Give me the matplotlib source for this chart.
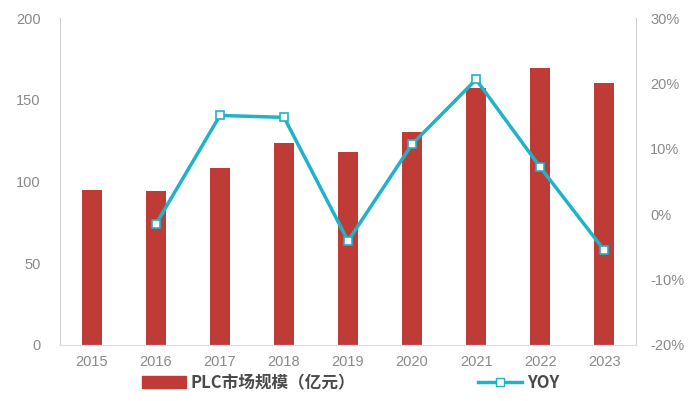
import matplotlib.pyplot as plt
import matplotlib.ticker as mticker
from matplotlib.lines import Line2D
from matplotlib.patches import Patch

plt.rcParams['font.family'] = ['Noto Sans CJK SC', 'DejaVu Sans']

anos = ["2015", "2016", "2017", "2018", "2019", "2020", "2021", "2022", "2023"]
mercado = [95, 94, 108, 123.5, 118, 130.5, 157, 169.5, 160]
yoy = [None, -1.5, 15.1, 14.8, -4.1, 10.7, 20.6, 7.2, -5.5]

cor_barra = "#BF3B36"
cor_linha = "#1FB2C8"
cinza = "#8a8a8a"

fig = plt.figure(figsize=(6.95, 4.01), dpi=100)
ax = fig.add_axes([0.0863, 0.14, 0.829, 0.815])
ax2 = ax.twinx()

x = list(range(len(anos)))
ax.bar(x, mercado, width=0.31, color=cor_barra, zorder=2)

xs = [i for i, v in zip(x, yoy) if v is not None]
ys = [v for v in yoy if v is not None]
ax2.plot(xs, ys, color=cor_linha, lw=2.5, marker="s", ms=6,
         mfc="white", mec=cor_linha, mew=1.2, zorder=3)

ax.set_xlim(-0.5, 8.5)
ax.set_ylim(0, 200)
ax.set_yticks([0, 50, 100, 150, 200])
ax2.set_ylim(-20, 30)
ax2.set_yticks([-20, -10, 0, 10, 20, 30])
ax2.yaxis.set_major_formatter(mticker.FuncFormatter(lambda v, p: f"{v:.0f}%"))

ax.set_xticks(x)
ax.set_xticklabels(anos)

for a in (ax, ax2):
    a.spines["top"].set_visible(False)
    a.spines["left"].set_color("#d0d0d0")
    a.spines["right"].set_color("#d0d0d0")
    a.spines["bottom"].set_color("#e0e0e0")
    a.tick_params(length=0, colors=cinza, labelsize=10.5)
    for lbl in a.get_xticklabels() + a.get_yticklabels():
        lbl.set_fontfamily("Liberation Sans")
ax2.spines["left"].set_visible(False)
ax.spines["right"].set_visible(False)
ax.tick_params(axis="y", pad=14)
ax2.tick_params(axis="y", pad=10)
ax.tick_params(axis="x", pad=7)
ax.set_zorder(ax2.get_zorder() - 1)
ax2.patch.set_visible(False)

handles = [Patch(color=cor_barra), Line2D([], [], color=cor_linha, lw=2.5, marker="s",
                                          ms=6, mfc="white", mec=cor_linha)]
fig.legend(handles, ["PLC市场规模（亿元）", "YOY"], loc="lower left",
           bbox_to_anchor=(0.183, -0.015), ncol=2, frameon=False, columnspacing=7.4,
           handlelength=2.6, handletextpad=0.3,
           prop={"size": 12, "weight": "bold"}, labelcolor="#4a4a4a")

fig.savefig("out.png", dpi=100)
